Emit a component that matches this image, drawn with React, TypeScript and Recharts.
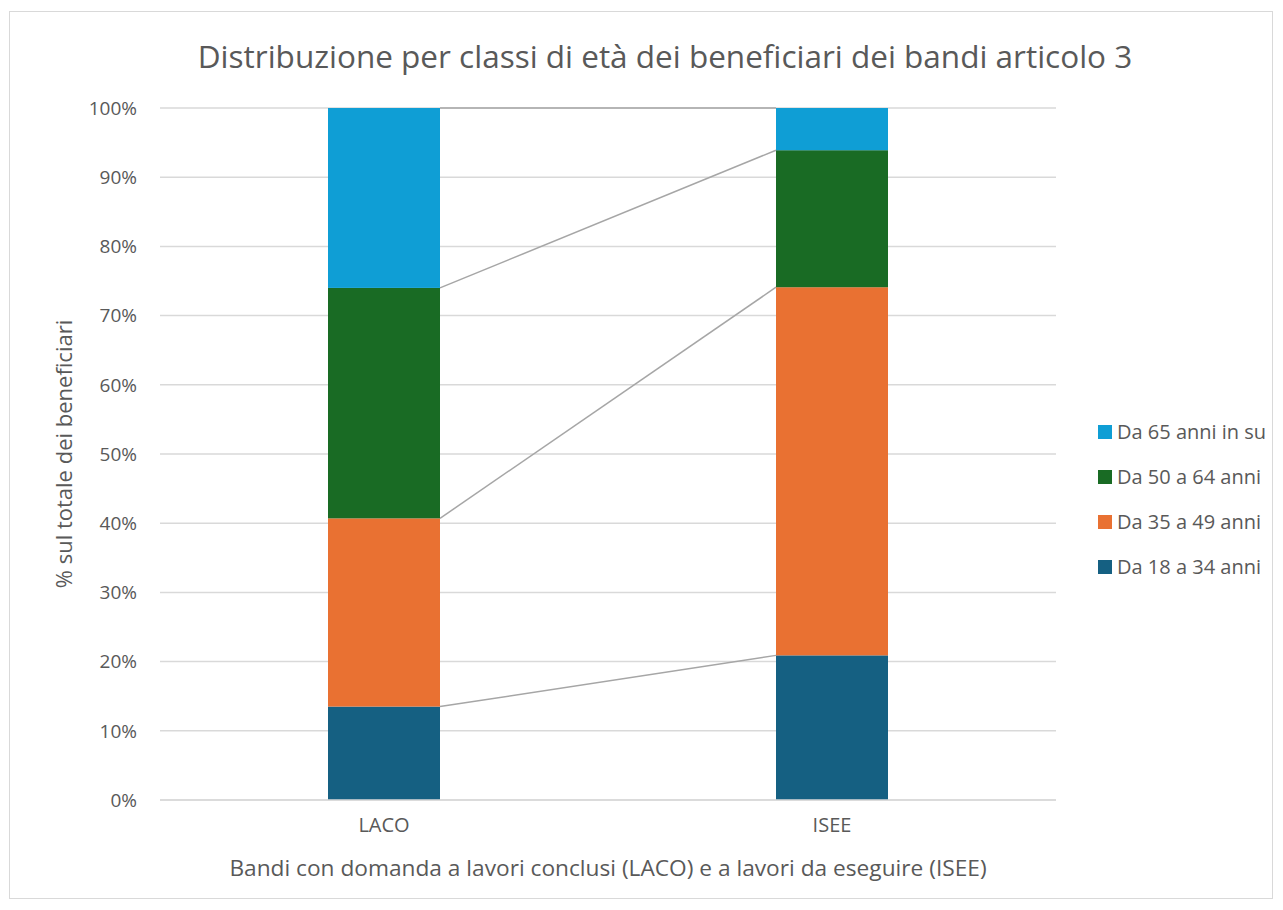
import {
  ComposedChart,
  Bar,
  XAxis,
  YAxis,
  CartesianGrid,
  Legend,
} from 'recharts';

const categories = ['LACO', 'ISEE'];
const seriesNames = ['Da 18 a 34 anni', 'Da 35 a 49 anni', 'Da 50 a 64 anni', 'Da 65 anni in su'];
const seriesColors = ['#156082', '#e97132', '#196b24', '#0f9ed5'];
const lacoValues = [13.5, 27.2, 33.3, 26.0];
const iseeValues = [20.9, 53.2, 19.8, 6.1];
const yTicks = [0, 10, 20, 30, 40, 50, 60, 70, 80, 90, 100];

const valuesByCategory = [lacoValues, iseeValues];

const data = categories.map((name, i) => {
  const row: any = { name };
  seriesNames.forEach((s, k) => {
    row[s] = valuesByCategory[i][k];
  });
  return row;
});

// bar width as a share of each category band
const barShare = 0.25;

const cumulative = (vals: number[]) => {
  let sum = 0;
  return vals.map((v) => (sum += v));
};
const lacoTops = cumulative(lacoValues);
const iseeTops = cumulative(iseeValues);

const font = '"Open Sans", sans-serif';
const textColor = '#595959';

// segment + series line from the top right corner of the LACO segment to the top left of the ISEE one
const makeShape = (k: number) => (props: any) => {
  const { x, y, width, height, index, fill } = props;
  const rect = <rect x={x} y={y} width={width} height={height} fill={fill} />;
  if (index !== 0 || !lacoValues[k]) return rect;
  const ppu = height / lacoValues[k];
  const zeroY = y + lacoTops[k] * ppu;
  const y2 = zeroY - iseeTops[k] * ppu;
  return (
    <g>
      {rect}
      <line x1={x + width} y1={y} x2={x + width / barShare} y2={y2} stroke="#a6a6a6" strokeWidth={1.5} />
    </g>
  );
};

const LegendBox = () => (
  <div style={{ fontFamily: font, fontSize: 20, color: textColor }}>
    {seriesNames
      .map((s, k) => ({ s, c: seriesColors[k] }))
      .reverse()
      .map(({ s, c }) => (
        <div key={s} style={{ display: 'flex', alignItems: 'center', height: 45, whiteSpace: 'nowrap' }}>
          <span style={{ width: 14, height: 14, background: c, display: 'inline-block', marginRight: 5 }} />
          <span>{s}</span>
        </div>
      ))}
  </div>
);

const YLabel = (props: any) => {
  const vb = props.viewBox;
  const x = vb.x - 37;
  const y = vb.y + vb.height / 2;
  return (
    <text
      x={x}
      y={y}
      transform={`rotate(-90, ${x}, ${y})`}
      textAnchor="middle"
      dominantBaseline="central"
      fill={textColor}
      fontSize={22}
      fontFamily={font}
    >
      % sul totale dei beneficiari
    </text>
  );
};

export default function App() {
  return (
    <div style={{ position: 'absolute', left: 0, top: 0, width: 1283, height: 910, background: '#fff' }}>
      <div
        style={{
          position: 'absolute',
          left: 9,
          top: 11,
          width: 1264,
          height: 888,
          border: '1px solid #d9d9d9',
          boxSizing: 'border-box',
        }}
      />
      <div
        style={{
          position: 'absolute',
          top: 34,
          left: 0,
          width: 1330,
          textAlign: 'center',
          fontFamily: font,
          fontSize: 31.5,
          color: textColor,
          whiteSpace: 'nowrap',
        }}
      >
        Distribuzione per classi di età dei beneficiari dei bandi articolo 3
      </div>
      <div style={{ position: 'absolute', left: 0, top: 0 }}>
        <ComposedChart
          width={1283}
          height={910}
          data={data}
          margin={{ top: 108, right: 227, bottom: 30, left: 100 }}
          barCategoryGap={`${((1 - barShare) / 2) * 100}%`}
        >
          <CartesianGrid vertical={false} stroke="#d9d9d9" strokeWidth={1.5} />
          <XAxis
            dataKey="name"
            axisLine={{ stroke: '#d9d9d9', strokeWidth: 1.5 }}
            tickLine={false}
            tickSize={0}
            tickMargin={18}
            height={80}
            tick={{ fill: textColor, fontSize: 20, fontFamily: font }}
            label={{
              value: 'Bandi con domanda a lavori conclusi (LACO) e a lavori da eseguire (ISEE)',
              position: 'insideBottom',
              offset: 4,
              fill: textColor,
              fontSize: 22.7,
              fontFamily: font,
            }}
          />
          <YAxis
            domain={[0, 100]}
            ticks={yTicks}
            tickFormatter={(v) => `${v}%`}
            axisLine={false}
            tickLine={false}
            tickSize={0}
            tickMargin={23}
            width={60}
            tick={{ fill: textColor, fontSize: 19, fontFamily: font }}
            label={{ content: YLabel }}
          />
          {seriesNames.map((s, k) => (
            <Bar
              key={s}
              dataKey={s}
              stackId="a"
              fill={seriesColors[k]}
              shape={makeShape(k)}
              isAnimationActive={false}
            />
          ))}
          <Legend
            layout="vertical"
            align="center"
            verticalAlign="middle"
            content={<LegendBox />}
            wrapperStyle={{ position: 'absolute', left: 1098, top: 409, width: 'auto' }}
          />
        </ComposedChart>
      </div>
    </div>
  );
}
